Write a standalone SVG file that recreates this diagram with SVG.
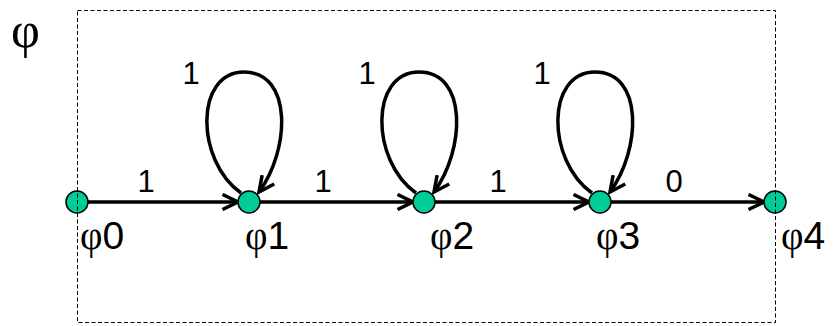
<svg xmlns="http://www.w3.org/2000/svg" width="837" height="326" viewBox="0 0 837 326">
<style>
.edge{fill:none;stroke:#000;stroke-width:3.5;marker-end:url(#arr)}
.node{fill:#00CC99;stroke:#000;stroke-width:1.5}
.el{font-family:"Liberation Sans",Arial,sans-serif;font-size:31px;fill:#000;text-anchor:middle}
.nl{font-family:"Liberation Sans",Arial,sans-serif;font-size:39px;fill:#000}
.phi{font-family:"Liberation Serif","Times New Roman",serif}
</style>
<defs>
<marker id="arr" viewBox="0 0 20 18" markerWidth="20" markerHeight="18" refX="17" refY="9" orient="auto" markerUnits="userSpaceOnUse">
<path d="M1.5,1.5 L17,9 L1.5,16.5" fill="none" stroke="#000" stroke-width="3.5"/>
</marker>
<path id="loop" d="M-8,-9 C-54,-42 -54,-130 -5,-130 C44,-130 41,-52 10,-10"/>
</defs>
<rect width="837" height="326" fill="#fff"/>
<text x="11" y="47" font-family="'Liberation Serif','Times New Roman',serif" font-size="50">φ</text>
<g id="connectors">
<path class="edge" d="M88,202 L238,202"/>
<path class="edge" d="M260,202 L413,202"/>
<path class="edge" d="M435,202 L589,202"/>
<path class="edge" d="M611,202 L764,202"/>
<use href="#loop" class="edge" transform="translate(249,202)"/>
<use href="#loop" class="edge" transform="translate(424,202)"/>
<use href="#loop" class="edge" transform="translate(600,202)"/>
<text class="el" x="146" y="192">1</text>
<text class="el" x="323" y="192">1</text>
<text class="el" x="498" y="192">1</text>
<text class="el" x="674" y="192">0</text>
<text class="el" x="191" y="84">1</text>
<text class="el" x="367" y="84">1</text>
<text class="el" x="542" y="84">1</text>
</g>
<g id="n0"><circle class="node" cx="77" cy="202" r="11"/><text class="nl" x="80" y="249"><tspan class="phi">φ</tspan>0</text></g>
<g id="n1"><circle class="node" cx="249" cy="202" r="11"/><text class="nl" x="245" y="249"><tspan class="phi">φ</tspan>1</text></g>
<g id="n2"><circle class="node" cx="424" cy="202" r="11"/><text class="nl" x="430" y="249"><tspan class="phi">φ</tspan>2</text></g>
<g id="n3"><circle class="node" cx="600" cy="202" r="11"/><text class="nl" x="596" y="249"><tspan class="phi">φ</tspan>3</text></g>
<g id="n4"><circle class="node" cx="775" cy="202" r="11"/><text class="nl" x="781" y="249"><tspan class="phi">φ</tspan>4</text></g>
<rect x="77.5" y="10.5" width="698" height="312" fill="none" stroke="#000" stroke-width="1" stroke-dasharray="4,2.5"/>
</svg>
